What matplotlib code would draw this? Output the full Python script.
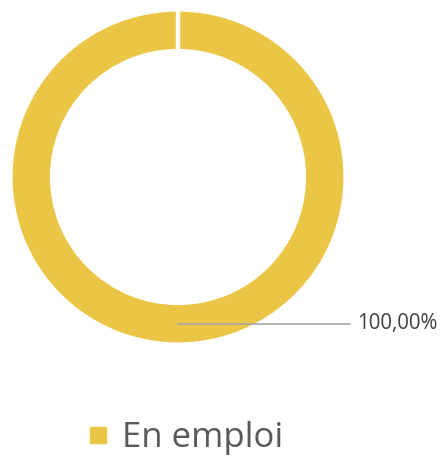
import numpy as np
import matplotlib.pyplot as plt
from matplotlib.lines import Line2D

plt.rcParams['font.family'] = ['Open Sans', 'DejaVu Sans']

categories = ['En emploi']
values = [100.0]
labels = ['100,00%']
colors = ['#EBC646']

fig = plt.figure(figsize=(4.44, 4.57), dpi=100)
ax = fig.add_axes([0, 0, 1, 1])

# donut, center/radius in pixel units
cx, cy = 178, 457 - 177
r_out, ring = 167.5, 41.5
wedges, _ = ax.pie(values, colors=colors, startangle=90, counterclock=False,
                   center=(cx, cy), radius=r_out,
                   wedgeprops=dict(width=ring, edgecolor='white', linewidth=3))

# a full wedge has no radial edge, so draw the white seam at its start angle
for w in wedges:
    a = np.deg2rad(w.theta2)
    ax.plot([cx + (r_out - ring - 2) * np.cos(a), cx + (r_out + 2) * np.cos(a)],
            [cy + (r_out - ring - 2) * np.sin(a), cy + (r_out + 2) * np.sin(a)],
            color='white', lw=3.2, solid_capstyle='butt')

# pie() resets the limits, so set them afterwards
ax.set_xlim(0, 444)
ax.set_ylim(0, 457)
ax.set_aspect('equal')
ax.axis('off')

# leader line + data label
mid = r_out - ring / 2
ax.plot([cx, 350], [cy - mid, cy - mid], color='#A6A6A6', lw=1.2)
ax.text(357, cy - mid, labels[0], ha='left', va='center', fontsize=14.8, color='#404040')

# legend
handles = [Line2D([], [], marker='s', linestyle='none', color=c, markersize=12) for c in colors]
fig.legend(handles, categories, loc='center', bbox_to_anchor=(0.415, 0.042),
           frameon=False, fontsize=25, labelcolor='#595959',
           handletextpad=0.35, handlelength=0.7, borderaxespad=0)

fig.savefig('out.png', dpi=100)
